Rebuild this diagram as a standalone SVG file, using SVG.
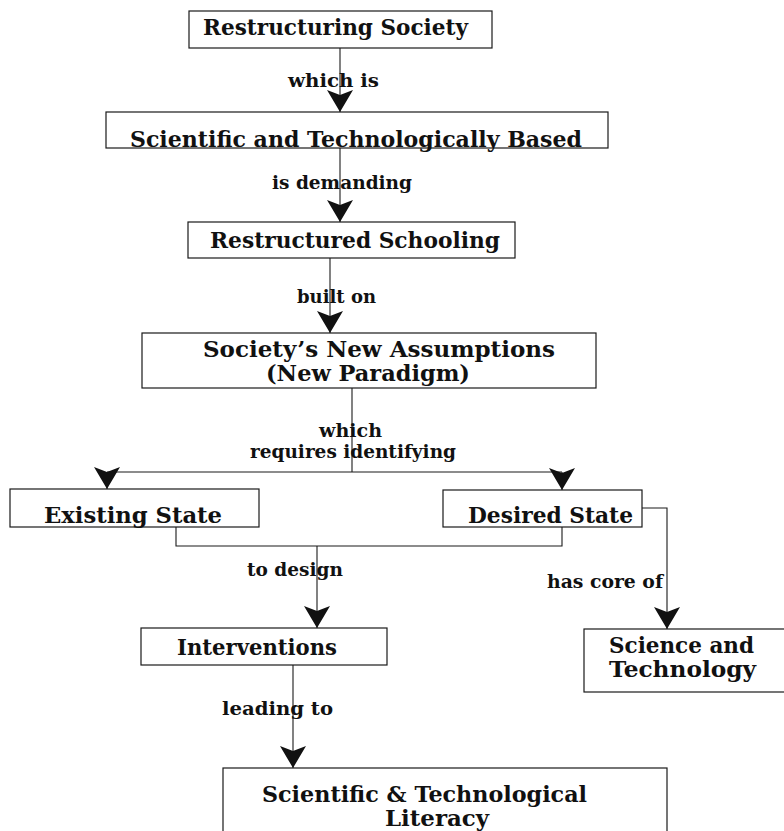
<svg xmlns="http://www.w3.org/2000/svg" width="784" height="831" viewBox="0 0 784 831">
<style>
  .box { fill: #ffffff; stroke: #1a1a1a; stroke-width: 1.2; }
  .conn { fill: none; stroke: #1a1a1a; stroke-width: 1.1; }
  .node { font-family: "DejaVu Serif", "Liberation Serif", serif; font-weight: bold; font-size: 22px; fill: #111111; }
  .lbl { font-family: "DejaVu Serif", "Liberation Serif", serif; font-weight: bold; font-size: 18.5px; fill: #111111; }
</style>
<defs>
  <marker id="arr" markerUnits="userSpaceOnUse" markerWidth="24" markerHeight="26" viewBox="0 0 22 26" refX="22" refY="13" orient="auto">
    <path d="M0,0 L22,13 L0,26 L5,13 Z" fill="#111111"/>
  </marker>
</defs>
<rect width="784" height="831" fill="#ffffff"/>

<g id="connectors">
  <path class="conn" d="M340,48 V112" marker-end="url(#arr)"/>
  <path class="conn" d="M340,148 V222" marker-end="url(#arr)"/>
  <path class="conn" d="M330,258 V333" marker-end="url(#arr)"/>
  <path class="conn" d="M352,388 V472"/>
  <path class="conn" d="M107,472 H562"/>
  <path class="conn" d="M107,472 V489" marker-end="url(#arr)"/>
  <path class="conn" d="M562,472 V490" marker-end="url(#arr)"/>
  <path class="conn" d="M176,527 V546 H562 V527"/>
  <path class="conn" d="M317,546 V628" marker-end="url(#arr)"/>
  <path class="conn" d="M642,508 H667 V629" marker-end="url(#arr)"/>
  <path class="conn" d="M293,665 V768" marker-end="url(#arr)"/>
</g>

<g id="labels">
  <text class="lbl" x="288" y="87" textLength="91" lengthAdjust="spacingAndGlyphs">which is</text>
  <text class="lbl" x="272" y="189" textLength="140" lengthAdjust="spacingAndGlyphs">is demanding</text>
  <text class="lbl" x="297" y="303" textLength="79" lengthAdjust="spacingAndGlyphs">built on</text>
  <text class="lbl" x="319" y="437" textLength="63" lengthAdjust="spacingAndGlyphs">which</text>
  <text class="lbl" x="250" y="458" textLength="206" lengthAdjust="spacingAndGlyphs">requires identifying</text>
  <text class="lbl" x="247" y="576" textLength="96" lengthAdjust="spacingAndGlyphs">to design</text>
  <text class="lbl" x="547" y="588" textLength="116" lengthAdjust="spacingAndGlyphs">has core of</text>
  <text class="lbl" x="222" y="715" textLength="111" lengthAdjust="spacingAndGlyphs">leading to</text>
</g>

<g id="n-restructuring-society">
  <rect class="box" x="189" y="11" width="303" height="37"/>
  <text class="node" x="203" y="35" textLength="265" lengthAdjust="spacingAndGlyphs">Restructuring Society</text>
</g>

<g id="n-sci-tech-based">
  <rect class="box" x="106" y="112" width="502" height="36"/>
  <text class="node" x="130" y="147" textLength="452" lengthAdjust="spacingAndGlyphs">Scientific and Technologically Based</text>
</g>

<g id="n-restructured-schooling">
  <rect class="box" x="188" y="222" width="327" height="36"/>
  <text class="node" x="210" y="248" textLength="290" lengthAdjust="spacingAndGlyphs">Restructured Schooling</text>
</g>

<g id="n-new-assumptions">
  <rect class="box" x="142" y="333" width="454" height="55"/>
  <text class="node" x="203" y="357" textLength="352" lengthAdjust="spacingAndGlyphs">Society’s  New Assumptions</text>
  <text class="node" x="266" y="381" textLength="204" lengthAdjust="spacingAndGlyphs">(New Paradigm)</text>
</g>

<g id="n-existing-state">
  <rect class="box" x="10" y="489" width="249" height="38"/>
  <text class="node" x="44" y="523" textLength="178" lengthAdjust="spacingAndGlyphs">Existing State</text>
</g>

<g id="n-desired-state">
  <rect class="box" x="443" y="490" width="199" height="37"/>
  <text class="node" x="468" y="523" textLength="165" lengthAdjust="spacingAndGlyphs">Desired State</text>
</g>

<g id="n-interventions">
  <rect class="box" x="141" y="628" width="246" height="37"/>
  <text class="node" x="177" y="655" textLength="160" lengthAdjust="spacingAndGlyphs">Interventions</text>
</g>

<g id="n-science-technology">
  <rect class="box" x="584" y="629" width="210" height="63"/>
  <text class="node" x="609" y="653" textLength="145" lengthAdjust="spacingAndGlyphs">Science and</text>
  <text class="node" x="609" y="677" textLength="147" lengthAdjust="spacingAndGlyphs">Technology</text>
</g>

<g id="n-literacy">
  <rect class="box" x="223" y="768" width="444" height="80"/>
  <text class="node" x="262" y="802" textLength="325" lengthAdjust="spacingAndGlyphs">Scientific &amp; Technological</text>
  <text class="node" x="385" y="826" textLength="104" lengthAdjust="spacingAndGlyphs">Literacy</text>
</g>
</svg>
